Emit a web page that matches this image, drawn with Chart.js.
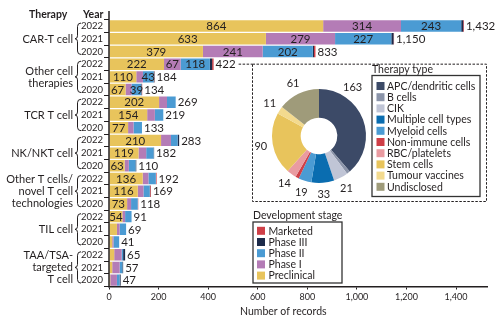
<!DOCTYPE html>
<html>
<head>
<meta charset="utf-8">
<script src="https://cdn.jsdelivr.net/npm/chart.js@4"></script>
<style>
html, body { margin: 0; padding: 0; background: #fff; }
#wrap { position: relative; width: 495px; height: 323px; }
#bars { position: absolute; left: 0; top: 0; }
#donut { position: absolute; left: 244px; top: 61px; }
</style>
</head>
<body>
<div id="wrap">
  <canvas id="bars" width="495" height="323"></canvas>
  <canvas id="donut" width="150" height="150"></canvas>
</div>
<script>
// therapy groups, 3 years each (2022, 2021, 2020)
var therapies = [['CAR-T cell'], ['Other cell', 'therapies'], ['TCR T cell'], ['NK/NKT cell'],
                 ['Other T cells/', 'novel T cell', 'technologies'], ['TIL cell'], ['TAA/TSA-', 'targeted', 'T cell']];
var years = ['2022', '2021', '2020'];

var preclinical = [864, 633, 379, 222, 110, 67, 202, 154, 77, 210, 119, 63, 136, 116, 73, 54, 32, 13, 21, 13, 5];
var phase1      = [314, 279, 241,  67,  27, 24,  32,  31, 22,  40,  31, 17,  23,  23, 16, 11, 11,  5, 30, 30, 27];
var phase2      = [243, 227, 202, 118,  43, 39,  35,  34, 34,  27,  30, 27,  30,  25, 27, 26, 26, 23,  6, 11, 11];
var phase3      = [  8,   9,   5,   9,   3,  2,   0,   0,  0,   6,   2,  3,   0,   2,  0,  0,  0,  0,  8,  3,  4];
var marketed    = [  3,   2,   6,   6,   1,  2,   0,   0,  0,   0,   0,  0,   3,   3,  2,  0,  0,  0,  0,  0,  0];

var xTicks = [0, 200, 400, 600, 800, 1000, 1200, 1400];

// inset: therapy type of "Other cell therapies" 2022
var therapyTypes = ['APC/dendritic cells', 'B cells', 'CIK', 'Multiple cell types', 'Myeloid cells',
                    'Non-immune cells', 'RBC/platelets', 'Stem cells', 'Tumour vaccines', 'Undisclosed'];
var typeCounts = [163, 5, 21, 33, 19, 5, 14, 90, 11, 61];
var typeColors = ['#3c4a67', '#8b94a9', '#c0c5d6', '#0a6db0', '#4b9bd3', '#cf3f47', '#e99ba1', '#e8c45c', '#f3da8e', '#9f9b7a'];

var F = 'Lato, "Liberation Sans", sans-serif';
var ink = '#231f20';

var labels = [];
therapies.forEach(function () { years.forEach(function (y) { labels.push(y); }); });
var totals = preclinical.map(function (v, i) { return v + phase1[i] + phase2[i] + phase3[i] + marketed[i]; });

function fmt(v) { return v.toLocaleString('en-US'); }

function brace(ctx, y0, y1) {
  var xr = 81, xv = 77.5, xl = 75, ym = (y0 + y1) / 2;
  ctx.beginPath();
  ctx.moveTo(xr, y0);
  ctx.quadraticCurveTo(xv, y0, xv, y0 + 3.5);
  ctx.lineTo(xv, ym - 3);
  ctx.quadraticCurveTo(xv, ym, xl, ym);
  ctx.quadraticCurveTo(xv, ym, xv, ym + 3);
  ctx.lineTo(xv, y1 - 3.5);
  ctx.quadraticCurveTo(xv, y1, xr, y1);
  ctx.stroke();
}

function legendBox(ctx, title, names, colors, left, top, right, bottom, swX, txX, firstY, step) {
  ctx.font = '10.5px ' + F;
  ctx.fillStyle = ink;
  ctx.textAlign = 'left';
  ctx.textBaseline = 'middle';
  ctx.fillText(title, left, top - 6);
  ctx.strokeStyle = '#333';
  ctx.lineWidth = 1.3;
  ctx.setLineDash([]);
  ctx.strokeRect(left, top, right - left, bottom - top);
  names.forEach(function (n, i) {
    var y = firstY + i * step;
    ctx.fillStyle = colors[i];
    ctx.fillRect(swX, y - 4, 8, 8);
    ctx.fillStyle = ink;
    ctx.fillText(n, txX, y + 0.5);
  });
}

var barText = {
  id: 'barText',
  afterDatasetsDraw: function (chart) {
    var ctx = chart.ctx;
    ctx.save();
    ctx.font = '11.5px ' + F;
    ctx.fillStyle = ink;
    ctx.textBaseline = 'middle';
    ctx.textAlign = 'center';
    chart.data.datasets.forEach(function (ds, di) {
      chart.getDatasetMeta(di).data.forEach(function (el, i) {
        var v = ds.data[i];
        if (ds.minLabel && v >= ds.minLabel) ctx.fillText(v, (el.base + el.x) / 2, el.y + 0.5);
      });
    });
    ctx.textAlign = 'left';
    var last = chart.getDatasetMeta(chart.data.datasets.length - 1);
    last.data.forEach(function (el, i) {
      ctx.fillText(fmt(totals[i]), el.x + 2, el.y + 0.5);
    });

    // dashed inset box linked to "Other cell therapies" 2022
    var el = last.data[3];
    var tx = el.x + 2 + ctx.measureText(fmt(totals[3])).width + 3;
    var boxL = 252.5, boxR = 486.5, boxT = el.y, boxB = 201.5;
    ctx.strokeStyle = ink;
    ctx.lineWidth = 1;
    ctx.setLineDash([2.5, 1.5]);
    ctx.beginPath();
    ctx.moveTo(tx, el.y);
    ctx.lineTo(boxL, el.y);
    ctx.stroke();
    ctx.strokeRect(boxL, boxT, boxR - boxL, boxB - boxT);
    ctx.setLineDash([]);
    ctx.restore();
  },
  afterDraw: function (chart) {
    var ctx = chart.ctx, ys = chart.scales.y, area = chart.chartArea;
    ctx.save();
    ctx.fillStyle = ink;
    ctx.textBaseline = 'middle';
    ctx.font = 'bold 10.5px ' + F;
    ctx.textAlign = 'left';
    ctx.fillText('Therapy', 29, 15);
    ctx.fillText('Year', 83, 15);

    ctx.strokeStyle = ink;
    ctx.lineWidth = 1.5;
    ctx.beginPath();
    ctx.moveTo(area.left, 11);
    ctx.lineTo(area.left, area.bottom);
    ctx.stroke();

    ctx.lineWidth = 1;
    ctx.font = '11px ' + F;
    ctx.textAlign = 'right';
    therapies.forEach(function (lines, g) {
      var y0 = ys.getPixelForValue(g * 3) - 3, y1 = ys.getPixelForValue(g * 3 + 2) + 3;
      brace(ctx, y0, y1);
      var ym = (y0 + y1) / 2 + 0.5;
      lines.forEach(function (t, k) {
        ctx.fillText(t, 73, ym + (k - (lines.length - 1) / 2) * 12);
      });
    });

    ctx.textAlign = 'left';
    ctx.font = '10.5px ' + F;
    ctx.fillText('Number of records', 240, 312);

    // development stage legend (reverse stack order)
    var ds = chart.data.datasets.slice().reverse();
    legendBox(ctx, 'Development stage',
      ds.map(function (d) { return d.label; }), ds.map(function (d) { return d.backgroundColor; }),
      253, 222, 342, 283, 257, 268.5, 230.8, 11.2);

    legendBox(ctx, 'Therapy type', therapyTypes, typeColors,
      372, 75.5, 480, 196.5, 376.5, 387, 86, 11.2);
    ctx.restore();
  }
};

new Chart(document.getElementById('bars'), {
  type: 'bar',
  data: {
    labels: labels,
    datasets: [
      { label: 'Preclinical', data: preclinical, backgroundColor: '#e8c45c', minLabel: 50 },
      { label: 'Phase I', data: phase1, backgroundColor: '#b47cb6', minLabel: 60 },
      { label: 'Phase II', data: phase2, backgroundColor: '#4b9bd3', minLabel: 39 },
      { label: 'Phase III', data: phase3, backgroundColor: '#1d2b4a' },
      { label: 'Marketed', data: marketed, backgroundColor: '#cf3f47' }
    ]
  },
  options: {
    indexAxis: 'y',
    responsive: false,
    animation: false,
    barPercentage: 0.9,
    categoryPercentage: 1,
    layout: { padding: { left: 0, top: 19.7, right: 8, bottom: 0 } },
    plugins: { legend: { display: false }, tooltip: { enabled: false } },
    scales: {
      x: {
        stacked: true, min: 0, max: 1525,
        afterBuildTicks: function (s) { s.ticks = xTicks.map(function (v) { return { value: v }; }); },
        afterFit: function (s) { s.height = 36.5; },
        ticks: { font: { size: 9, family: F }, color: ink, padding: 2, maxRotation: 0, autoSkip: false,
                 callback: function (v) { return fmt(v); } },
        grid: { drawOnChartArea: false, tickLength: 3, color: ink, lineWidth: 1 },
        border: { display: true, color: ink, width: 1.5 }
      },
      y: {
        stacked: true,
        afterFit: function (s) { s.width = 109; },
        ticks: { font: { size: 9.5, family: F }, color: ink, padding: 1, autoSkip: false },
        grid: { drawOnChartArea: false, tickLength: 5, color: ink, lineWidth: 1 },
        border: { display: false }
      }
    }
  },
  plugins: [barText]
});

var donutLabels = {
  id: 'donutLabels',
  afterDatasetsDraw: function (chart) {
    var ctx = chart.ctx, total = typeCounts.reduce(function (a, b) { return a + b; }, 0);
    ctx.save();
    ctx.font = '11px ' + F;
    ctx.fillStyle = ink;
    ctx.textAlign = 'center';
    ctx.textBaseline = 'middle';
    chart.getDatasetMeta(0).data.forEach(function (arc, i) {
      var v = typeCounts[i];
      if (v < 10) return;
      var f = v / total > 0.3 ? 0.25 : 0.5;
      var a = arc.startAngle + (arc.endAngle - arc.startAngle) * f;
      ctx.fillText(v, arc.x + Math.cos(a) * 59, arc.y + Math.sin(a) * 59);
    });
    ctx.restore();
  }
};

new Chart(document.getElementById('donut'), {
  type: 'doughnut',
  data: { labels: therapyTypes, datasets: [{ data: typeCounts, backgroundColor: typeColors, borderWidth: 0 }] },
  options: {
    responsive: false,
    animation: false,
    cutout: '39%',
    layout: { padding: 28 },
    plugins: { legend: { display: false }, tooltip: { enabled: false } }
  },
  plugins: [donutLabels]
});
</script>
</body>
</html>
